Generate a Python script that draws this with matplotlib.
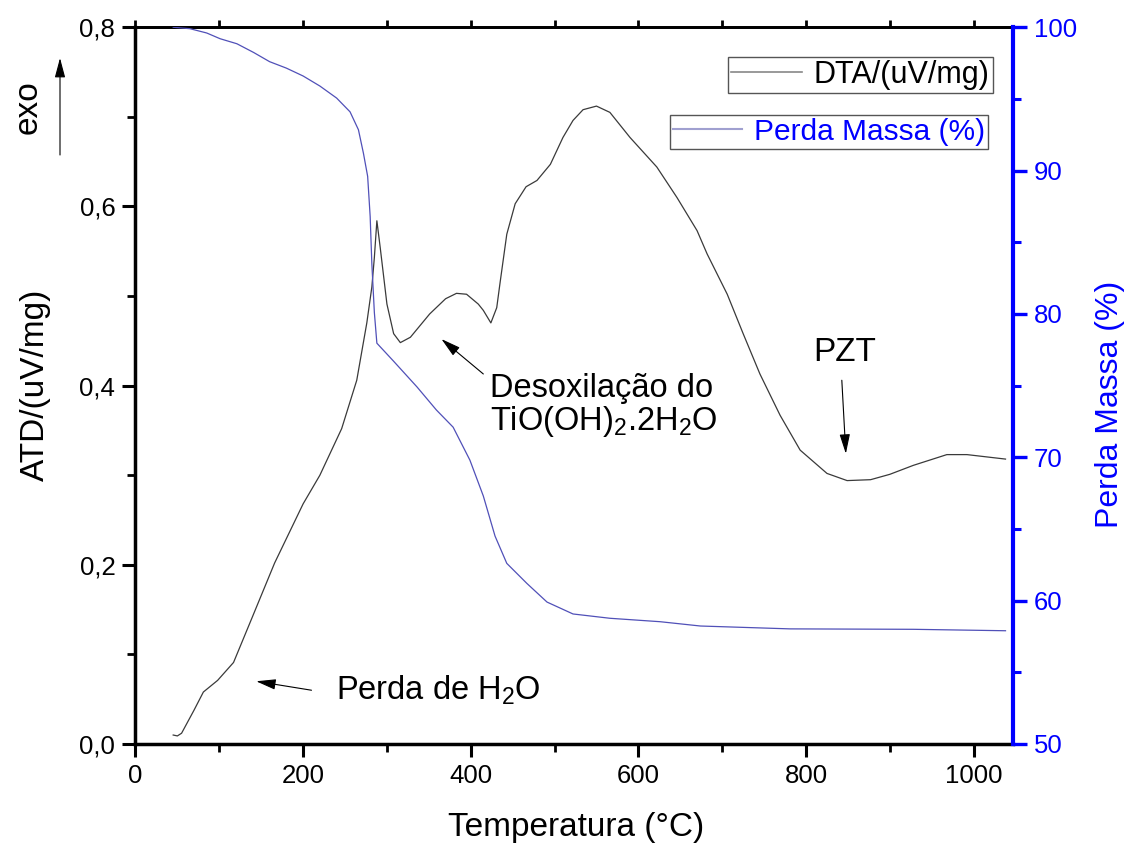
import numpy as np
import matplotlib
matplotlib.use('Agg')
import matplotlib.pyplot as plt
from matplotlib.ticker import MultipleLocator, FuncFormatter
from matplotlib.lines import Line2D

plt.rcParams['font.family'] = ['Liberation Sans', 'DejaVu Sans']
plt.rcParams['mathtext.fontset'] = 'custom'
plt.rcParams['mathtext.rm'] = 'Liberation Sans'
plt.rcParams['mathtext.it'] = 'Liberation Sans'

# DTA signal (uV/mg) vs temperature (C)
dta_temp = [45, 50, 55, 70, 81, 98, 117, 140, 166, 200, 220, 246, 264, 276, 282,
            285, 288, 292, 300, 308, 316, 328, 351, 370, 383, 395, 409, 415, 424,
            431, 435, 443, 453, 466, 479, 495, 510, 522, 534, 550, 566, 590, 622,
            646, 670, 682, 698, 706, 725, 745, 769, 793, 809, 825, 849, 877, 900,
            928, 968, 992, 1038]
dta_val = [0.010, 0.009, 0.012, 0.038, 0.058, 0.071, 0.091, 0.143, 0.202, 0.268,
           0.300, 0.352, 0.406, 0.470, 0.510, 0.543, 0.584, 0.554, 0.491, 0.458,
           0.448, 0.454, 0.480, 0.497, 0.503, 0.502, 0.491, 0.484, 0.470, 0.487,
           0.515, 0.569, 0.603, 0.622, 0.629, 0.647, 0.677, 0.696, 0.708, 0.712,
           0.705, 0.677, 0.644, 0.610, 0.573, 0.547, 0.517, 0.502, 0.458, 0.413,
           0.367, 0.328, 0.315, 0.302, 0.294, 0.295, 0.301, 0.311, 0.323, 0.323,
           0.318]

# mass loss (%) vs temperature (C)
mass_temp = [45, 65, 85, 101, 121, 141, 160, 180, 200, 220, 240, 256, 266, 272,
             277, 280, 282, 285, 288, 308, 336, 359, 379, 399, 415, 429, 443, 467,
             491, 522, 566, 626, 674, 781, 928, 1038]
mass_val = [100, 99.9, 99.6, 99.2, 98.85, 98.24, 97.6, 97.15, 96.6, 95.9, 95.06,
            94.1, 92.85, 91.2, 89.6, 86.8, 83.5, 80.1, 77.96, 76.7, 74.9, 73.3,
            72.1, 69.8, 67.3, 64.5, 62.6, 61.2, 59.9, 59.07, 58.77, 58.53, 58.23,
            58.03, 58.0, 57.9]

blue = '#0000ff'

fig = plt.figure(figsize=(11.28, 8.44), dpi=100)
ax = fig.add_axes([0.1201, 0.1185, 0.778, 0.8492])
ax2 = ax.twinx()

ax.plot(dta_temp, dta_val, color='#3a3a3a', lw=0.9)
ax2.plot(mass_temp, mass_val, color='#5050b8', lw=0.9)

ax.set_xlim(0, 1047)
ax.set_ylim(0, 0.8)
ax2.set_ylim(50, 100)

comma = FuncFormatter(lambda v, p: f'{v:.1f}'.replace('.', ','))
ax.xaxis.set_major_locator(MultipleLocator(200))
ax.xaxis.set_minor_locator(MultipleLocator(100))
ax.yaxis.set_major_locator(MultipleLocator(0.2))
ax.yaxis.set_minor_locator(MultipleLocator(0.1))
ax.yaxis.set_major_formatter(comma)
ax2.yaxis.set_major_locator(MultipleLocator(10))
ax2.yaxis.set_minor_locator(MultipleLocator(5))

ax.tick_params(which='major', direction='out', length=9.5, width=2.2, labelsize=18.5, pad=5)
ax.tick_params(which='minor', direction='out', length=5.5, width=2.0)
ax2.tick_params(which='major', direction='out', length=10, width=2.4, labelsize=18.5,
                colors=blue, pad=5)
ax2.tick_params(which='minor', direction='out', length=6, width=2.2, colors=blue)

top = ax.secondary_xaxis('top')
top.xaxis.set_major_locator(MultipleLocator(200))
top.xaxis.set_minor_locator(MultipleLocator(100))
top.tick_params(which='both', direction='out', length=5, width=2, labeltop=False)
top.spines['top'].set_linewidth(2)

for s in ['left', 'bottom']:
    ax.spines[s].set_linewidth(2.5)
ax.spines['top'].set_linewidth(2)
ax2.spines['right'].set_color(blue)
ax2.spines['right'].set_linewidth(3)
for s in ['left', 'bottom', 'top']:
    ax2.spines[s].set_visible(False)

ax.set_xlabel('Temperatura (°C)', fontsize=24)
ax.xaxis.set_label_coords(0.502, -0.117)
ax.xaxis.label.set_va('center')
ax.set_ylabel('ATD/(uV/mg)', fontsize=24)
ax.yaxis.set_label_coords(-0.1145, 0.501)
ax.yaxis.label.set_va('center')
ax2.set_ylabel('Perda Massa (%)', fontsize=23, color=blue)
ax2.yaxis.set_label_coords(1.110, 0.474)
ax2.yaxis.label.set_va('center')

# two separate legend boxes
leg1 = ax2.legend([Line2D([], [], color='#888888', lw=1.2)], ['DTA/(uV/mg)'],
                  loc='upper right', bbox_to_anchor=(0.977, 0.9585),
                  fontsize=22, fancybox=False, borderaxespad=0, borderpad=0.1,
                  handlelength=2.3, handletextpad=0.4, framealpha=1)
leg1.get_frame().set_edgecolor('#555555')
leg1.get_frame().set_linewidth(1)
ax2.add_artist(leg1)
leg2 = ax2.legend([Line2D([], [], color='#a0a0d0', lw=1.5)], ['Perda Massa (%)'],
                  loc='upper right', bbox_to_anchor=(0.9715, 0.8777),
                  fontsize=21.5, fancybox=False, borderaxespad=0, borderpad=0.1,
                  handlelength=2.3, handletextpad=0.4, framealpha=1)
leg2.get_frame().set_edgecolor('#555555')
leg2.get_frame().set_linewidth(1)
for t in leg2.get_texts():
    t.set_color(blue)

arrow = dict(arrowstyle='-|>,head_length=1.2,head_width=0.32', color='black',
             lw=0.8, shrinkA=0, shrinkB=0)
ax.annotate('', xy=(144, 0.070), xytext=(210, 0.060), arrowprops=arrow)
ax.text(239, 0.050, 'Perda de H$_2$O', fontsize=23.5, va='baseline')

ax.annotate('', xy=(365, 0.452), xytext=(415, 0.413), arrowprops=arrow)
ax.text(423, 0.387, 'Desoxilação do', fontsize=23.5, va='baseline')
ax.text(423, 0.350, 'TiO(OH)$_2$.2H$_2$O', fontsize=23.5, va='baseline')

ax.annotate('', xy=(847.5, 0.324), xytext=(842.7, 0.406), arrowprops=arrow)
ax.text(846.5, 0.427, 'PZT', fontsize=24, ha='center', va='baseline')

# exo direction marker beside the left axis
ax.annotate('', xy=(60, 844 - 58), xytext=(60, 844 - 155), xycoords='figure pixels',
            textcoords='figure pixels', arrowprops=arrow, annotation_clip=False)
fig.text(28 / 1128, 1 - 106.7 / 844, 'exo', rotation=90, fontsize=24,
         ha='center', va='center')

fig.savefig('out.png', dpi=100)
